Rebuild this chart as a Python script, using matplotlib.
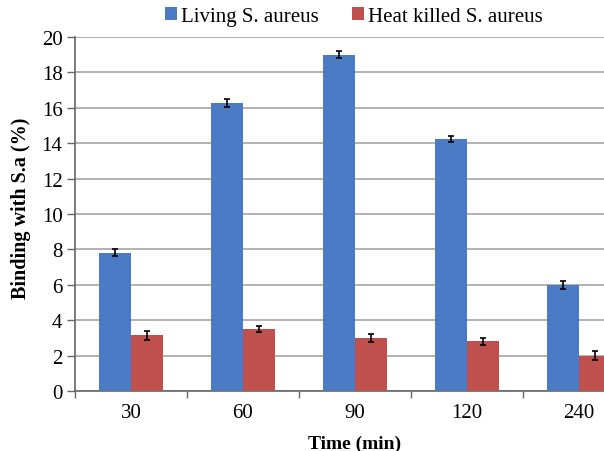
import numpy as np
import matplotlib.pyplot as plt

times = ['30', '60', '90', '120', '240']
living = [7.8, 16.25, 19.0, 14.25, 6.0]
living_err = [0.2, 0.22, 0.2, 0.18, 0.22]
killed = [3.15, 3.5, 3.0, 2.8, 2.0]
killed_err = [0.25, 0.15, 0.22, 0.2, 0.25]

plt.rcParams['font.family'] = ['Liberation Serif', 'DejaVu Serif']

fig = plt.figure(figsize=(6.04, 4.52), dpi=100)
ax = fig.add_axes([75/604, 60/452, 560/604, 354/452])

x = np.arange(len(times)) + 0.5
w = 0.286
err_kw = dict(ecolor='black', capsize=2.5, elinewidth=1.2, capthick=1.2)
ax.bar(x - w/2, living, w, yerr=living_err, color='#4a7bc4', label='Living S. aureus',
       error_kw=err_kw, zorder=3)
ax.bar(x + w/2, killed, w, yerr=killed_err, color='#c0504d', label='Heat killed S. aureus',
       error_kw=err_kw, zorder=3)

ax.set_xlim(0, 5)
ax.set_ylim(0, 20)
ax.set_yticks(range(0, 21, 2))
ax.set_xticks(x)
ax.set_xticklabels(times)
ax.set_xticks(np.arange(0, 6), minor=True)
ax.tick_params(axis='x', which='major', length=0, labelsize=15, pad=9)
ax.tick_params(axis='x', which='minor', length=5, width=1, color='#666666', direction='out')
ax.tick_params(axis='y', labelsize=15, length=6, width=1, color='#666666', pad=3)

ax.grid(axis='y', color='#a6a6a6', linewidth=1.2, zorder=0)
ax.set_axisbelow(True)
for s in ['top', 'right']:
    ax.spines[s].set_visible(False)
ax.spines['left'].set_color('#666666')
ax.spines['bottom'].set_color('#666666')
ax.spines['left'].set_linewidth(1.2)
ax.spines['bottom'].set_linewidth(1.2)

ax.set_xlabel('Time (min)', fontsize=14, fontweight='bold', labelpad=9)
fig.text(0.034, 0.54, 'Binding with S.a (%)', rotation=90, fontsize=14.5,
         fontweight='bold', ha='center', va='center')

fig.legend(loc='center', bbox_to_anchor=(0.586, 0.962), ncol=2, frameon=False,
           fontsize=15, handlelength=0.55, handleheight=0.55, handletextpad=0.2,
           columnspacing=1.6)

fig.savefig('out.png', dpi=100)
